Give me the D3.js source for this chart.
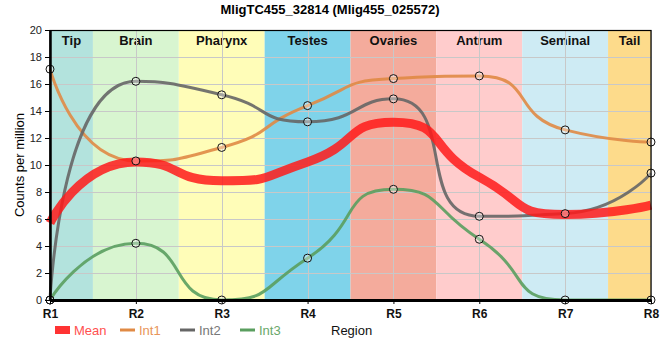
<!DOCTYPE html>
<html><head><meta charset="utf-8">
<script src="https://cdn.jsdelivr.net/npm/d3@7"></script>
<style>body{margin:0;background:#fff;font-family:Arial,"Liberation Sans",sans-serif;}</style>
</head><body><svg id="chart" width="660" height="360"></svg>
<script>
const categories = ["R1","R2","R3","R4","R5","R6","R7","R8"];
const regions = ["Tip","Brain","Pharynx","Testes","Ovaries","Antrum","Seminal","Tail"];
const regionColors = ["#b3e3dd","#d8f5d0","#fffdb8","#7fd3ea","#f4ab9c","#ffcccc","#ceebf4","#fddb8b"];
const meanValues = [5.7, 10.23, 8.83, 10.23, 13.17, 9.1, 6.33, 7.03];
const int1Values = [17.1, 10.3, 11.3, 14.4, 16.4, 16.6, 12.6, 11.7];
const int2Values = [0, 16.2, 15.2, 13.2, 14.9, 6.2, 6.4, 9.4];
const int3Values = [0, 4.2, 0, 3.1, 8.2, 4.5, 0, 0];
const yTicks = [0,2,4,6,8,10,12,14,16,18,20];

const svg = d3.select("#chart");
const L = 50, R = 651, T = 30, B = 300;
const x = d3.scaleLinear().domain([0, categories.length-1]).range([L, R]);
const y = d3.scaleLinear().domain([0, 20]).range([B, T]);

// smooth bezier through points (distance-weighted, clamped control points)
function smoothPath(vals, smooth) {
  const pts = vals.map((v,i) => [x(i), y(v)]);
  const n = pts.length;
  const p = d3.path();
  let cpx0 = pts[0][0], cpy0 = pts[0][1], cpx1, cpy1;
  p.moveTo(pts[0][0], pts[0][1]);
  for (let i = 1; i < n; i++) {
    const [px, py] = pts[i-1], [cx, cy] = pts[i];
    let ncx = cx, ncy = cy;
    if (i === n-1) { cpx1 = cx; cpy1 = cy; }
    else {
      const [nx, ny] = pts[i+1];
      let vx = nx - px, vy = ny - py;
      const lp = Math.hypot(cx-px, cy-py), ln = Math.hypot(nx-cx, ny-cy);
      const r = ln/(ln+lp);
      ncx = cx + vx*smooth*r; ncy = cy + vy*smooth*r;
      ncx = Math.max(Math.min(ncx, Math.max(nx,cx)), Math.min(nx,cx));
      ncy = Math.max(Math.min(ncy, Math.max(ny,cy)), Math.min(ny,cy));
      vx = ncx - cx; vy = ncy - cy;
      cpx1 = cx - vx*lp/ln; cpy1 = cy - vy*lp/ln;
      cpx1 = Math.max(Math.min(cpx1, Math.max(px,cx)), Math.min(px,cx));
      cpy1 = Math.max(Math.min(cpy1, Math.max(py,cy)), Math.min(py,cy));
      vx = cx - cpx1; vy = cy - cpy1;
      ncx = cx + vx*ln/lp; ncy = cy + vy*ln/lp;
    }
    p.bezierCurveTo(cpx0, cpy0, cpx1, cpy1, cx, cy);
    cpx0 = ncx; cpy0 = ncy;
  }
  return p.toString();
}

// bands
const bands = svg.append("g");
regions.forEach((r,i) => {
  const x0 = Math.max(L, x(i-0.5)), x1 = Math.min(R, x(i+0.5));
  bands.append("rect").attr("x", x0).attr("y", T).attr("width", x1-x0).attr("height", B-T).attr("fill", regionColors[i]);
  bands.append("text").attr("x", (x0+x1)/2).attr("y", 45).attr("text-anchor","middle")
    .attr("font-size", 13).attr("font-weight","bold").attr("fill","#111").text(r);
});

// grid
const grid = svg.append("g").attr("stroke","#c8c8c8").attr("stroke-width",1);
yTicks.forEach(t => grid.append("line").attr("x1",L).attr("x2",R).attr("y1",y(t)+0.5).attr("y2",y(t)+0.5));
categories.forEach((c,i) => grid.append("line").attr("x1",Math.round(x(i))+0.5).attr("x2",Math.round(x(i))+0.5).attr("y1",T).attr("y2",B));

// lines
const series = [
  {name:"Int1", vals:int1Values, color:"#e08a45"},
  {name:"Int2", vals:int2Values, color:"#666666"},
  {name:"Int3", vals:int3Values, color:"#5a9e5f"}
];
const SMOOTH = 0.6;
series.forEach(s => {
  svg.append("path").attr("d", smoothPath(s.vals, SMOOTH)).attr("fill","none")
    .attr("stroke", s.color).attr("stroke-width", 3).attr("stroke-opacity", 0.9);
});
svg.append("path").attr("d", smoothPath(meanValues, SMOOTH)).attr("fill","none")
  .attr("stroke","#ff1a1a").attr("stroke-width",9).attr("stroke-opacity",0.85);
series.forEach(s => {
  svg.append("g").selectAll("circle").data(s.vals).join("circle")
    .attr("cx",(d,i)=>x(i)).attr("cy",d=>y(d)).attr("r",4)
    .attr("fill","rgba(255,255,255,0.35)").attr("stroke","#111").attr("stroke-width",1);
});

// frame
svg.append("rect").attr("x",L).attr("y",T+0.5).attr("width",R-L).attr("height",B-T)
  .attr("fill","none").attr("stroke","#000").attr("stroke-width",1.2);

// axes
const yAxis = svg.append("g").attr("transform",`translate(${L},0)`)
  .call(d3.axisLeft(y).tickValues(yTicks).tickSize(5).tickSizeOuter(0));
yAxis.select(".domain").attr("stroke-width",2.5);
yAxis.selectAll("text").attr("font-size",11).attr("font-family","Arial, sans-serif").attr("fill","#222");
const xAxis = svg.append("g").attr("transform",`translate(0,${B})`)
  .call(d3.axisBottom(x).tickValues(d3.range(categories.length)).tickFormat(i=>categories[i]).tickSize(4).tickSizeOuter(0));
xAxis.select(".domain").attr("stroke-width",3);
xAxis.selectAll("text").attr("font-size",12).attr("font-weight","bold").attr("font-family","Arial, sans-serif").attr("fill","#111").attr("dy","0.9em");

// titles
svg.append("text").attr("x",330).attr("y",14).attr("text-anchor","middle")
  .attr("font-size",13).attr("font-weight","bold").text("MligTC455_32814 (Mlig455_025572)");
svg.append("text").attr("transform","translate(24,165) rotate(-90)").attr("text-anchor","middle")
  .attr("font-size",13).text("Counts per million");
svg.append("text").attr("x",331).attr("y",335).attr("font-size",13).attr("fill","#111").text("Region");

// legend
const legend = [
  {name:"Mean", color:"#ff3333", tcolor:"#ff5050", x:55, rect:true},
  {name:"Int1", color:"#e08a45", tcolor:"#e8955a", x:120},
  {name:"Int2", color:"#666666", tcolor:"#777777", x:180},
  {name:"Int3", color:"#5a9e5f", tcolor:"#6aa86a", x:240}
];
legend.forEach(l => {
  if (l.rect) svg.append("rect").attr("x",l.x).attr("y",326).attr("width",15).attr("height",8).attr("fill",l.color);
  else svg.append("line").attr("x1",l.x).attr("x2",l.x+15).attr("y1",330).attr("y2",330).attr("stroke",l.color).attr("stroke-width",3);
  svg.append("text").attr("x",l.x+19).attr("y",335).attr("font-size",13).attr("fill",l.tcolor).text(l.name);
});
</script></body></html>
